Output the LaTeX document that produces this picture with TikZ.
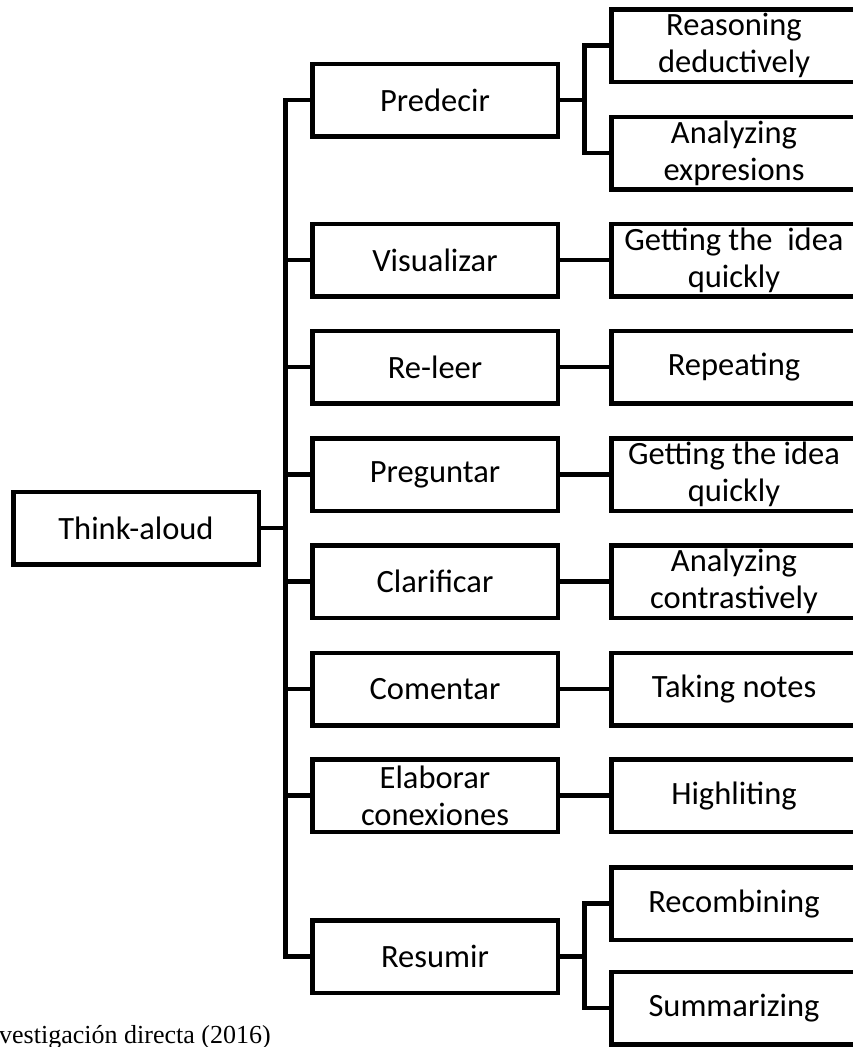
\documentclass[tikz,border=0pt]{standalone}
\usepackage{fontspec}
\setmainfont{Carlito}
\newfontfamily\tnr{Liberation Serif}
\begin{document}
\begin{tikzpicture}[x=1pt,y=-1pt,
  box/.style={draw=black,line width=4.5pt,inner sep=0pt,minimum width=245.5pt,minimum height=72.5pt,
    align=center,font=\fontsize{32.5}{37}\selectfont},
  conn/.style={draw=black,line width=4.5pt,line join=miter}]
\clip (0,0) rectangle (853,1047);
\fill[white] (0,0) rectangle (853,1047);
% root
\node[box] (think) at (136,528) {Think-aloud};
% middle column
\node[box] (pred) at (435,100) {Predecir};
\node[box] (vis)  at (435,260) {Visualizar};
\node[box] (rel)  at (435,367) {Re-leer};
\node[box] (preg) at (435,474.5) {Preguntar};
\node[box] (clar) at (435,581.5) {Clarificar};
\node[box] (com)  at (435,689) {Comentar};
\node[box] (elab) at (435,795.5) {Elaborar\\conexiones};
\node[box] (res)  at (435,956.5) {Resumir};
% right column
\node[box] (reas)  at (734,45.5) {Reasoning\\deductively};
\node[box] (anex)  at (734,153) {Analyzing\\expresions};
\node[box] (get1)  at (734,260) {Getting the\ \ idea\\quickly};
\node[box] (rep)   at (734,367) {Repeating};
\node[box] (get2)  at (734,474.5) {Getting the idea\\quickly};
\node[box] (anco)  at (734,581.5) {Analyzing\\contrastively};
\node[box] (take)  at (734,689) {Taking notes};
\node[box] (high)  at (734,795.5) {Highliting};
\node[box] (recb)  at (734,903.5) {Recombining};
\node[box] (summ)  at (734,1008) {Summarizing};
% trunk
\coordinate (T) at (285.5,0);
\coordinate (S) at (584.5,0);
\draw[conn] (pred.west) -- (pred.west -| T) -- (res.west -| T) -- (res.west);
\draw[conn] (think.east) -- (think.east -| T);
\foreach \n in {vis,rel,preg,clar,com,elab}
  \draw[conn] (\n.west) -- (\n.west -| T);
% one-to-one branches
\draw[conn] (vis.east) -- (get1.west);
\draw[conn] (rel.east) -- (rep.west);
\draw[conn] (preg.east) -- (get2.west);
\draw[conn] (clar.east) -- (anco.west);
\draw[conn] (com.east) -- (take.west);
\draw[conn] (elab.east) -- (high.west);
% forks
\draw[conn] (pred.east) -- (pred.east -| S);
\draw[conn] (reas.west) -- (reas.west -| S) -- (anex.west -| S) -- (anex.west);
\draw[conn] (res.east) -- (res.east -| S);
\draw[conn] (recb.west) -- (recb.west -| S) -- (summ.west -| S) -- (summ.west);
% source note
\node[anchor=base west,inner sep=0pt,font=\tnr\fontsize{26}{31}\selectfont] (src) at (-1,1043) {vestigación directa (2016)};
\end{tikzpicture}
\end{document}
